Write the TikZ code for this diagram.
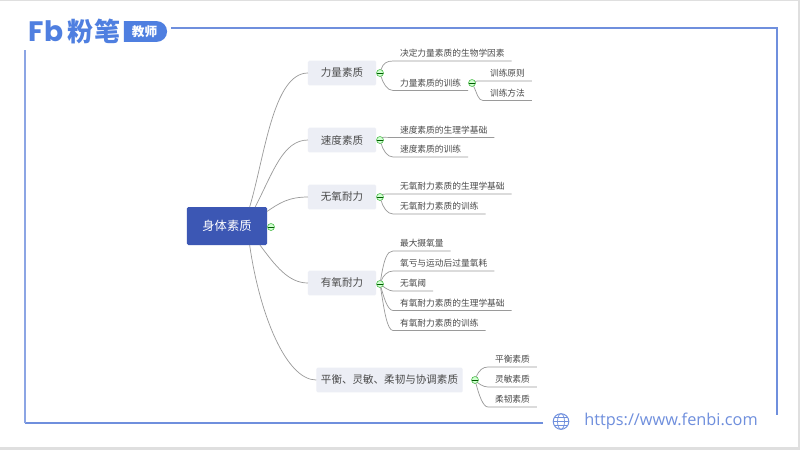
\documentclass[tikz,border=0pt]{standalone}
\usepackage{fontspec}
\setmainfont{Noto Sans CJK SC}
\newfontfamily\urlfont{Open Sans}
\newfontfamily\logofont{Poppins}
\usetikzlibrary{shapes.misc}
\definecolor{frameblue}{HTML}{6F8FDD}
\definecolor{logoblue}{HTML}{4F7FE0}
\definecolor{rootblue}{HTML}{3C57B4}
\definecolor{topicgray}{HTML}{ECEEF5}
\definecolor{inkgray}{HTML}{4A4A4A}
\definecolor{linkgray}{HTML}{9A9A9A}
\begin{document}
\begin{tikzpicture}[x=0.025cm,y=0.025cm]
\tikzstyle{every node}+=[outer sep=0pt]
\tikzstyle{root}=[fill=rootblue,rounded corners=1pt,text=white,font=\fontsize{8.75}{10}\selectfont,minimum width=2cm,minimum height=0.95cm]
\tikzstyle{topic}=[fill=topicgray,rounded corners=1pt,text=inkgray,font=\fontsize{7.5}{9}\selectfont,minimum width=1.7cm,minimum height=0.62cm]
\tikzstyle{leaf}=[anchor=south west,text=inkgray,font=\fontsize{6.2}{7}\selectfont,inner xsep=5pt,inner ysep=2pt,text height=6pt,text depth=1pt]
\tikzstyle{toggle}=[circle,draw=green!45!gray,fill=green!18!white,line width=0.4pt,minimum size=0.175cm,inner sep=0pt,
  path picture={\draw [green!35!black,line width=0.3pt] (path picture bounding box.west) -- (path picture bounding box.east);}]
\tikzstyle{link}=[linkgray,line width=0.5pt]
\tikzstyle{frame}=[frameblue,line width=1pt]
\useasboundingbox (0,0) rectangle (800,-450);
\fill [gray!25] (0,0) rectangle (800,-450);
\fill [white] (0,-1) rectangle (798,-447);
% frame
\coordinate (fa) at (171,-28);
\coordinate (fb) at (777,-28);
\coordinate (fc) at (777,-415);
\coordinate (fd) at (543,-423);
\coordinate (fe) at (25,-423);
\coordinate (ff) at (25,-50);
\draw [frame] (fa) -- (fb) -- (fc);
\draw [frame] (fd) -- (fe);
\draw [frame,frameblue!80] (fe) -- (ff);
% logo
\node [text=logoblue,inner sep=0pt,font=\logofont\bfseries\fontsize{20}{20}\selectfont] (logo) at (46,-31) {Fb};
\node [text=logoblue,inner sep=0pt,font=\bfseries\fontsize{18.5}{20}\selectfont] (fenbi) at (94,-31.5) {粉笔};
\node [rounded rectangle,rounded rectangle left arc=none,fill=logoblue,text=white,inner sep=0pt,minimum width=1.08cm,minimum height=0.52cm,font=\bfseries\fontsize{9}{10}\selectfont] (teacher) at (144.5,-31.5) {教师};
% url
\node [text=frameblue,inner sep=0pt,font=\urlfont\fontsize{11.6}{13}\selectfont] (url) at (671,-421) {https://www.fenbi.com};
\node [circle,draw=frameblue,line width=0.7pt,minimum size=0.39cm,inner sep=0pt] (globe) at (561,-421.5) {};
\draw [frameblue,line width=0.5pt] (globe.north) arc (90:-90:3.5 and 7.8) arc (270:90:3.5 and 7.8);
\draw [frameblue,line width=0.5pt] (globe.west) -- (globe.east);
\draw [frameblue,line width=0.5pt] (globe.150) -- (globe.30);
\draw [frameblue,line width=0.5pt] (globe.210) -- (globe.330);
% main nodes
\node [root] (root) at (227,-226) {身体素质};
\node [toggle] (c0) at (271,-227) {};
\node [topic] (t1) at (342,-73) {力量素质};
\node [topic] (t2) at (342,-140) {速度素质};
\node [topic] (t3) at (342,-197) {无氧耐力};
\node [topic] (t4) at (342,-283) {有氧耐力};
\node [topic] (t5) at (389.5,-380) {平衡、灵敏、柔韧与协调素质};
\node [toggle] (c1) at (380,-73) {};
\node [toggle] (c2) at (380,-140) {};
\node [toggle] (c3) at (380,-197) {};
\node [toggle] (c4) at (380,-284) {};
\node [toggle] (c5) at (475,-380) {};
\node [toggle] (c12) at (472,-83) {};
% leaves
\node [leaf] (a1) at (393,-61) {决定力量素质的生物学因素};
\node [leaf] (a2) at (393,-90.5) {力量素质的训练};
\node [leaf] (a3) at (483,-81) {训练原则};
\node [leaf] (a4) at (483,-100.5) {训练方法};
\node [leaf] (b1) at (393,-137.5) {速度素质的生理学基础};
\node [leaf] (b2) at (393,-157) {速度素质的训练};
\node [leaf] (d1) at (393,-194) {无氧耐力素质的生理学基础};
\node [leaf] (d2) at (393,-214) {无氧耐力素质的训练};
\node [leaf] (e1) at (393,-251) {最大摄氧量};
\node [leaf] (e2) at (393,-271) {氧亏与运动后过量氧耗};
\node [leaf] (e3) at (393,-291) {无氧阈};
\node [leaf] (e4) at (393,-310.5) {有氧耐力素质的生理学基础};
\node [leaf] (e5) at (393,-330.5) {有氧耐力素质的训练};
\node [leaf] (g1) at (488,-367) {平衡素质};
\node [leaf] (g2) at (488,-387) {灵敏素质};
\node [leaf] (g3) at (488,-407) {柔韧素质};
% root links
\draw [link] (root.40) .. controls +(15,50) and +(-35,0) .. (t1.west);
\draw [link] (root.34) .. controls +(18,35) and +(-25,0) .. (t2.west);
\draw [link] (root.20) .. controls +(12,8) and +(-20,0) .. (t3.west);
\draw [link] (root.-30) .. controls +(15,-20) and +(-20,0) .. (t4.west);
\draw [link] (root.-40) .. controls +(10,-70) and +(-30,0) .. (t5.west);
% leaf links
\draw [link] (c1) .. controls +(3,10) and +(-6,0) .. (a1.south west) -- (a1.south east);
\draw [link] (c1) .. controls +(3,-10) and +(-6,0) .. (a2.south west) -- (a2.south east);
\draw [link] (c12) .. controls +(4,2) and +(-6,0) .. (a3.south west) -- (a3.south east);
\draw [link] (c12) .. controls +(5,-10) and +(-5,0) .. (a4.south west) -- (a4.south east);
\draw [link] (c2) .. controls +(3,3) and +(-6,0) .. (b1.south west) -- (b1.south east);
\draw [link] (c2) .. controls +(3,-10) and +(-6,0) .. (b2.south west) -- (b2.south east);
\draw [link] (c3) .. controls +(3,3) and +(-6,0) .. (d1.south west) -- (d1.south east);
\draw [link] (c3) .. controls +(3,-10) and +(-6,0) .. (d2.south west) -- (d2.south east);
\draw [link] (c4) .. controls +(4,25) and +(-6,0) .. (e1.south west) -- (e1.south east);
\draw [link] (c4) .. controls +(3,8) and +(-6,0) .. (e2.south west) -- (e2.south east);
\draw [link] (c4) .. controls +(4,-3) and +(-4,0) .. (e3.south west) -- (e3.south east);
\draw [link] (c4) .. controls +(3,-10) and +(-6,0) .. (e4.south west) -- (e4.south east);
\draw [link] (c4) .. controls +(4,-25) and +(-6,0) .. (e5.south west) -- (e5.south east);
\draw [link] (c5) .. controls +(4,10) and +(-5,0) .. (g1.south west) -- (g1.south east);
\draw [link] (c5) .. controls +(3,-3) and +(-5,0) .. (g2.south west) -- (g2.south east);
\draw [link] (c5) .. controls +(4,-15) and +(-5,0) .. (g3.south west) -- (g3.south east);
\end{tikzpicture}
\end{document}
